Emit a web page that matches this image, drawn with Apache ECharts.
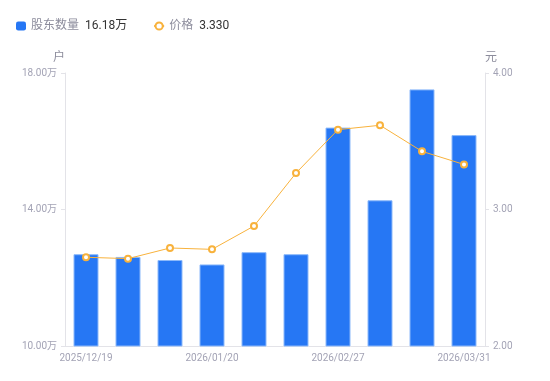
<!DOCTYPE html>
<html>
<head>
<meta charset="utf-8">
<script src="https://cdn.jsdelivr.net/npm/echarts@6/dist/echarts.min.js"></script>
<style>
html,body{margin:0;padding:0;background:#fff;}
#main{width:550px;height:381px;}
</style>
</head>
<body>
<div id="main"></div>
<script>
const categories = ['2025/12/19','2025/12/31','2026/01/09','2026/01/20','2026/01/30','2026/02/10','2026/02/27','2026/03/10','2026/03/20','2026/03/31'];
const holders = [126900, 126100, 125200, 123900, 127500, 126900, 164000, 142700, 175200, 161800];
const prices = [2.650, 2.640, 2.718, 2.708, 2.879, 3.267, 3.585, 3.617, 3.426, 3.330];
const leftTicks = { min: 100000, max: 180000, interval: 40000 };
const rightTicks = { min: 2, max: 4, interval: 1 };

const fmtWan = v => (v / 10000).toFixed(2) + '万';
const labelColor = '#a3a3b5';
const lineColor = '#e3e3e8';

const chart = echarts.init(document.getElementById('main'), null, { renderer: 'canvas' });
chart.setOption({
  animation: false,
  textStyle: { fontFamily: 'Roboto, "Noto Sans CJK SC", sans-serif' },
  legend: {
    left: 11,
    top: 15,
    itemWidth: 10,
    itemHeight: 9,
    itemGap: 26,
    data: [
      { name: '股东数量', icon: 'roundRect', itemStyle: { borderWidth: 0 } },
      { name: '价格' }
    ],
    formatter: function (name) {
      if (name === '股东数量') return '{n|' + name + '}{v|' + fmtWan(holders[holders.length - 1]) + '}';
      return '{n|' + name + '}{v|' + prices[prices.length - 1].toFixed(3) + '}';
    },
    textStyle: {
      rich: {
        n: { color: '#8c8c9c', fontSize: 12, padding: [0, 6, 0, 0] },
        v: { color: '#333333', fontSize: 12 }
      }
    }
  },
  grid: { left: 65, right: 65, top: 73, bottom: 35, containLabel: false },
  xAxis: {
    type: 'category',
    data: categories,
    axisLine: { lineStyle: { color: lineColor } },
    axisTick: { show: false },
    axisLabel: { color: labelColor, fontSize: 10, interval: 2, margin: 7 }
  },
  yAxis: [
    {
      type: 'value',
      name: '户',
      nameGap: 9,
      nameTextStyle: { color: '#8c8c9c', fontSize: 12, align: 'right' },
      min: leftTicks.min, max: leftTicks.max, interval: leftTicks.interval,
      axisLine: { show: true, lineStyle: { color: lineColor } },
      axisTick: { show: true, length: 4, lineStyle: { color: lineColor } },
      splitLine: { show: false },
      axisLabel: { color: labelColor, fontSize: 10, formatter: fmtWan, margin: 8 }
    },
    {
      type: 'value',
      name: '元',
      nameGap: 9,
      nameTextStyle: { color: '#8c8c9c', fontSize: 12, align: 'left' },
      min: rightTicks.min, max: rightTicks.max, interval: rightTicks.interval,
      axisLine: { show: true, lineStyle: { color: lineColor } },
      axisTick: { show: true, length: 4, lineStyle: { color: lineColor } },
      splitLine: { show: false },
      axisLabel: { color: labelColor, fontSize: 10, formatter: v => v.toFixed(2), margin: 8 }
    }
  ],
  series: [
    {
      name: '股东数量',
      type: 'bar',
      yAxisIndex: 0,
      data: holders,
      barWidth: 25,
      itemStyle: { color: '#2677F4', borderColor: '#8cb9fa', borderWidth: 1 }
    },
    {
      name: '价格',
      type: 'line',
      yAxisIndex: 1,
      data: prices,
      symbol: 'emptyCircle',
      symbolSize: 6,
      lineStyle: { color: '#F8B23C', width: 1 },
      itemStyle: { color: '#F8B23C', borderWidth: 2 }
    }
  ]
});
</script>
</body>
</html>
